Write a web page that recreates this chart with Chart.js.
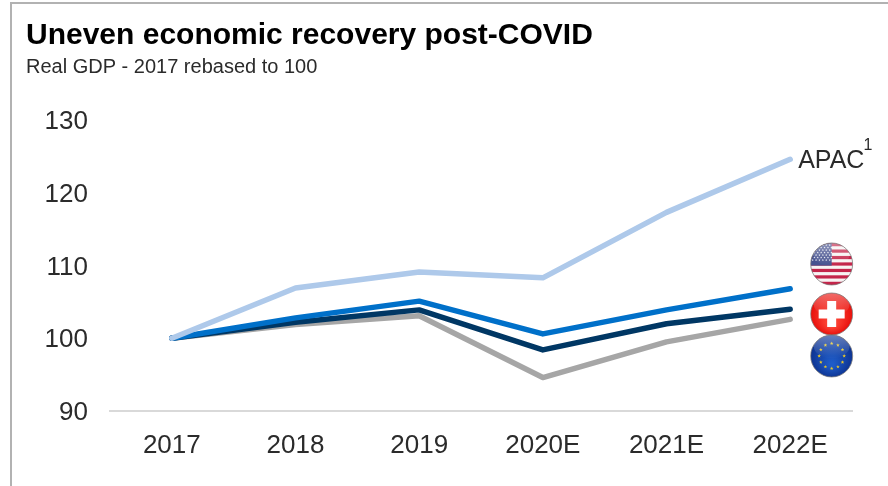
<!DOCTYPE html>
<html>
<head>
<meta charset="utf-8">
<title>Uneven economic recovery post-COVID</title>
<script src="https://cdn.jsdelivr.net/npm/chart.js@4/dist/chart.umd.min.js"></script>
<style>
  html, body { margin: 0; padding: 0; background: #fff; overflow: hidden; }
  #wrap { position: relative; width: 888px; height: 486px; }
  #frame { position: absolute; left: 10px; top: 2px; right: 0; bottom: 0; border-left: 2px solid #b2b2b2; border-top: 2px solid #b2b2b2; }
  canvas { position: absolute; left: 0; top: 0; }
</style>
</head>
<body>
<div id="wrap">
  <div id="frame"></div>
  <canvas id="gdpChart" width="888" height="486"></canvas>
</div>
<script>
const FONT = '"Liberation Sans", Arial, sans-serif';
const TEXT = '#2b2b2b';

const years = ['2017', '2018', '2019', '2020E', '2021E', '2022E'];
const yTicks = [90, 100, 110, 120, 130];

const apac = [100, 106.9, 109.1, 108.3, 117.3, 124.6];
const usa = [100, 102.8, 105.1, 100.6, 103.9, 106.8];
const switzerland = [100, 102.2, 103.9, 98.4, 102, 104];
const eurozone = [100, 101.9, 103.1, 94.6, 99.5, 102.6];

// round icons next to the line ends: [name, centre y]
const flags = [['us', 264], ['ch', 314], ['eu', 356]];
const FLAG_R = 21;

function star(ctx, x, y, r) {
  ctx.beginPath();
  for (let i = 0; i < 10; i++) {
    const a = -Math.PI / 2 + i * Math.PI / 5;
    const d = i % 2 ? r * 0.42 : r;
    ctx.lineTo(x + Math.cos(a) * d, y + Math.sin(a) * d);
  }
  ctx.closePath();
  ctx.fill();
}

function paintUS(ctx, x, y, r) {
  ctx.fillStyle = '#f7f3f3';
  ctx.fillRect(x - r, y - r, r * 2, r * 2);
  ctx.fillStyle = '#c4254a';
  const h = r * 2 / 13;
  for (let i = 0; i < 13; i += 2) ctx.fillRect(x - r, y - r + i * h, r * 2, h);
  ctx.fillStyle = '#46528f';
  ctx.fillRect(x - r, y - r, r, h * 7);
  ctx.fillStyle = '#fff';
  for (let row = 0; row < 7; row++) {
    for (let col = 0; col < 6; col++) {
      star(ctx, x - r + 2 + col * 3.4 + (row % 2) * 1.7, y - r + 2 + row * 2.5, 1.1);
    }
  }
}

function paintCH(ctx, x, y, r) {
  const g = ctx.createRadialGradient(x, y + r * 0.5, 2, x, y, r);
  g.addColorStop(0, '#ff4a3a');
  g.addColorStop(1, '#e8100c');
  ctx.fillStyle = g;
  ctx.fillRect(x - r, y - r, r * 2, r * 2);
  ctx.fillStyle = '#fff';
  ctx.fillRect(x - 4.5, y - 13, 9, 26);
  ctx.fillRect(x - 13, y - 4.5, 26, 9);
}

function paintEU(ctx, x, y, r) {
  const g = ctx.createRadialGradient(x, y + r * 0.4, 2, x, y, r * 1.1);
  g.addColorStop(0, '#1f5cc8');
  g.addColorStop(1, '#0b2f8c');
  ctx.fillStyle = g;
  ctx.fillRect(x - r, y - r, r * 2, r * 2);
  ctx.fillStyle = '#e8c82a';
  for (let i = 0; i < 12; i++) {
    const a = i * Math.PI / 6;
    star(ctx, x + Math.cos(a) * 12.5, y + Math.sin(a) * 12.5, 1.9);
  }
}

const painters = { us: paintUS, ch: paintCH, eu: paintEU };

function drawFlag(ctx, name, x, y) {
  ctx.save();
  ctx.beginPath();
  ctx.arc(x, y, FLAG_R, 0, Math.PI * 2);
  ctx.clip();
  painters[name](ctx, x, y, FLAG_R);
  // soft gloss on the top half
  const gloss = ctx.createLinearGradient(0, y - FLAG_R, 0, y);
  gloss.addColorStop(0, 'rgba(255,255,255,0.38)');
  gloss.addColorStop(1, 'rgba(255,255,255,0.02)');
  ctx.fillStyle = gloss;
  ctx.beginPath();
  ctx.ellipse(x, y - FLAG_R * 0.45, FLAG_R * 0.85, FLAG_R * 0.55, 0, 0, Math.PI * 2);
  ctx.fill();
  ctx.restore();
  ctx.beginPath();
  ctx.arc(x, y, FLAG_R, 0, Math.PI * 2);
  ctx.strokeStyle = 'rgba(120,120,120,0.75)';
  ctx.lineWidth = 1;
  ctx.stroke();
}

const annotations = {
  id: 'annotations',
  afterDatasetsDraw(chart) {
    const { ctx, scales } = chart;
    const endX = scales.x.getPixelForValue(5);
    ctx.save();
    // APAC label with its footnote marker
    const lx = endX + 8;
    const ly = scales.y.getPixelForValue(apac[5]);
    ctx.fillStyle = TEXT;
    ctx.textBaseline = 'middle';
    ctx.textAlign = 'left';
    ctx.font = '25px ' + FONT;
    ctx.fillText('APAC', lx, ly + 2);
    const w = ctx.measureText('APAC').width;
    ctx.font = '16px ' + FONT;
    ctx.fillText('1', lx + w - 1, ly - 14);
    ctx.restore();
    flags.forEach(([name, y]) => drawFlag(ctx, name, endX + 41.5, y));
  }
};

function lineSet(label, data, color) {
  return {
    label, data,
    borderColor: color,
    borderWidth: 5.5,
    borderCapStyle: 'round',
    borderJoinStyle: 'round',
    pointRadius: 0,
    tension: 0,
    fill: false
  };
}

new Chart(document.getElementById('gdpChart'), {
  type: 'line',
  data: {
    labels: years,
    datasets: [
      lineSet('APAC', apac, '#aec9ea'),
      lineSet('USA', usa, '#0070c9'),
      lineSet('Switzerland', switzerland, '#003764'),
      lineSet('Eurozone', eurozone, '#a6a6a6')
    ]
  },
  options: {
    responsive: false,
    animation: false,
    layout: { padding: { left: 26, right: 36, top: 0, bottom: 0 } },
    plugins: {
      legend: { display: false },
      tooltip: { enabled: false },
      title: {
        display: true,
        text: 'Uneven economic recovery post-COVID',
        align: 'start',
        color: '#000',
        font: { family: FONT, size: 30, weight: 'bold', lineHeight: 1.2 },
        padding: { top: 18, bottom: 0 }
      },
      subtitle: {
        display: true,
        text: 'Real GDP - 2017 rebased to 100',
        align: 'start',
        color: TEXT,
        font: { family: FONT, size: 20, lineHeight: 1.2 },
        padding: { top: 1, bottom: 41 }
      }
    },
    scales: {
      x: {
        offset: true,
        grid: { display: false },
        border: { color: '#d9d9d9', width: 2 },
        ticks: { color: TEXT, font: { family: FONT, size: 26 }, padding: 11, maxRotation: 0 },
        afterFit(scale) { scale.height = 75; }
      },
      y: {
        min: 90,
        max: 130,
        afterBuildTicks(scale) { scale.ticks = yTicks.map(value => ({ value })); },
        grid: { display: false },
        border: { display: false },
        ticks: { color: TEXT, font: { family: FONT, size: 26 }, padding: 14, labelOffset: 2 },
        afterFit(scale) { scale.width = 84; }
      }
    }
  },
  plugins: [annotations]
});
</script>
</body>
</html>
